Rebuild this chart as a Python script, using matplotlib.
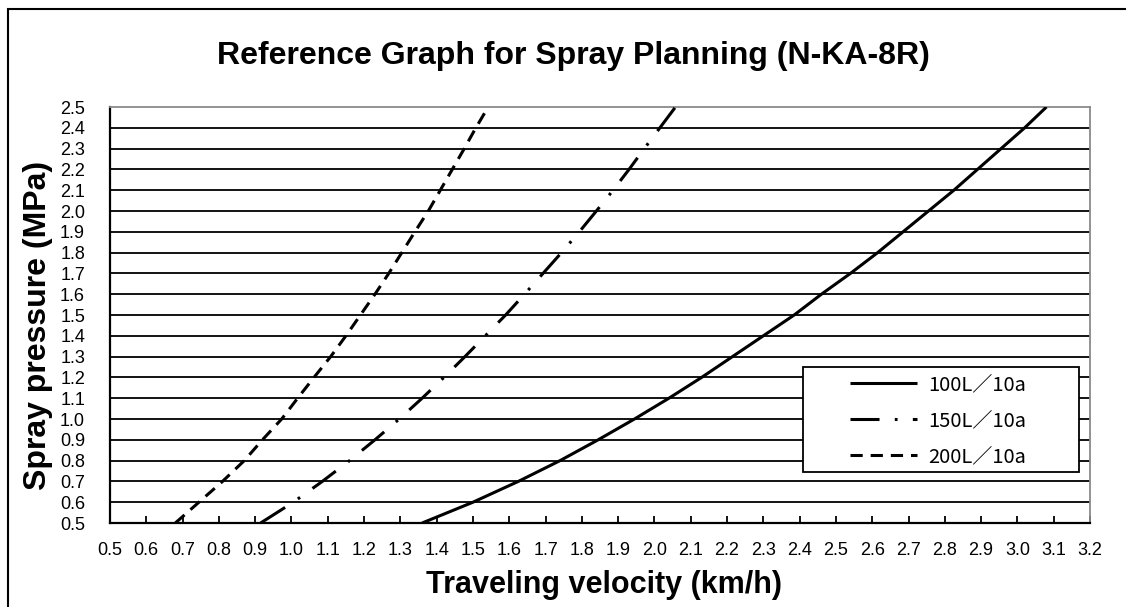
import matplotlib
matplotlib.use("Agg")
import matplotlib.pyplot as plt
from matplotlib.patches import Rectangle

plt.rcParams['font.family'] = ['Liberation Sans', 'DejaVu Sans']

# spray pressure (MPa) and the travel speed needed for each application rate
pressure = [0.5, 0.6, 0.7, 0.8, 0.9, 1.0, 1.1, 1.2, 1.3, 1.4, 1.5,
            1.6, 1.7, 1.8, 1.9, 2.0, 2.1, 2.2, 2.3, 2.4, 2.5]
speed_100 = [1.36, 1.50, 1.625, 1.74, 1.845, 1.945, 2.04, 2.13, 2.215, 2.30, 2.385,
             2.46, 2.54, 2.615, 2.685, 2.755, 2.825, 2.89, 2.955, 3.02, 3.08]
speed_150 = [0.915, 1.005, 1.085, 1.16, 1.23, 1.297, 1.36, 1.42, 1.478, 1.534, 1.59,
             1.642, 1.693, 1.744, 1.793, 1.84, 1.886, 1.93, 1.972, 2.015, 2.058]
speed_200 = [0.68, 0.745, 0.81, 0.87, 0.92, 0.973, 1.017, 1.062, 1.108, 1.15, 1.19,
             1.23, 1.268, 1.304, 1.34, 1.377, 1.41, 1.443, 1.476, 1.508, 1.542]
series_labels = ['100L／10a', '150L／10a', '200L／10a']

x_ticks = [round(0.5 + 0.1 * i, 1) for i in range(28)]
y_ticks = pressure

W, H = 1126, 607
fig = plt.figure(figsize=(W / 100, H / 100), dpi=100)
ax = fig.add_axes([110 / W, 1 - 523 / H, 980 / W, 416 / H])

# horizontal grid
for p in y_ticks[1:-1]:
    ax.axhline(p, color='black', lw=1.3, zorder=1)

lw = 2.2
l1, = ax.plot(speed_100, pressure, color='black', lw=lw, solid_capstyle='butt', zorder=3)
l2, = ax.plot(speed_150, pressure, color='black', lw=lw, linestyle=(0, (9.5, 5, 0.9, 5)), zorder=3)
l3, = ax.plot(speed_200, pressure, color='black', lw=lw, linestyle=(0, (4, 2.6)), zorder=3)

ax.set_xlim(0.5, 3.2)
ax.set_ylim(0.5, 2.5)
ax.set_xticks(x_ticks)
ax.set_xticklabels([f"{v:.1f}" for v in x_ticks])
ax.set_yticks(y_ticks)
ax.set_yticklabels([f"{v:.1f}" for v in y_ticks])
ax.tick_params(axis='x', direction='in', length=5, width=1.3, pad=14, labelsize=13)
ax.tick_params(axis='y', length=0, pad=18, labelsize=13)

for side in ['left', 'bottom']:
    ax.spines[side].set_color('black')
    ax.spines[side].set_linewidth(1.6)
for side in ['top', 'right']:
    ax.spines[side].set_color('#8a8a8a')
    ax.spines[side].set_linewidth(1.3)

# legend box
box = Rectangle((803 / W, 1 - 472 / H), 276 / W, 105 / H, transform=fig.transFigure,
                facecolor='white', edgecolor='black', lw=1.3, zorder=4)
ax.add_patch(box)
box.set_clip_on(False)
leg = ax.legend([l1, l2, l3], series_labels, loc='upper left',
                bbox_to_anchor=(844 / W, 1 - 368 / H), bbox_transform=fig.transFigure,
                frameon=False, handlelength=3.3, handletextpad=0.6, labelspacing=0.75,
                borderaxespad=0, borderpad=0.3,
                prop={'family': ['Noto Sans CJK JP', 'DejaVu Sans'], 'size': 14.5})
leg.set_zorder(5)

fig.text(573 / W, 1 - 56 / H, 'Reference Graph for Spray Planning (N-KA-8R)',
         ha='center', va='center', fontsize=23, fontweight='bold')
fig.text(604 / W, 1 - 585 / H, 'Traveling velocity (km/h)',
         ha='center', va='center', fontsize=22, fontweight='bold')
fig.text(38 / W, 1 - 325 / H, 'Spray pressure (MPa)', rotation=90,
         ha='center', va='center', fontsize=23, fontweight='bold')

# outer frame
fig.add_artist(Rectangle((8 / W, -0.1), 1.2, 1.1 - 9 / H, transform=fig.transFigure,
                         facecolor='none', edgecolor='black', lw=1.5))

fig.savefig('out.png', dpi=100)
